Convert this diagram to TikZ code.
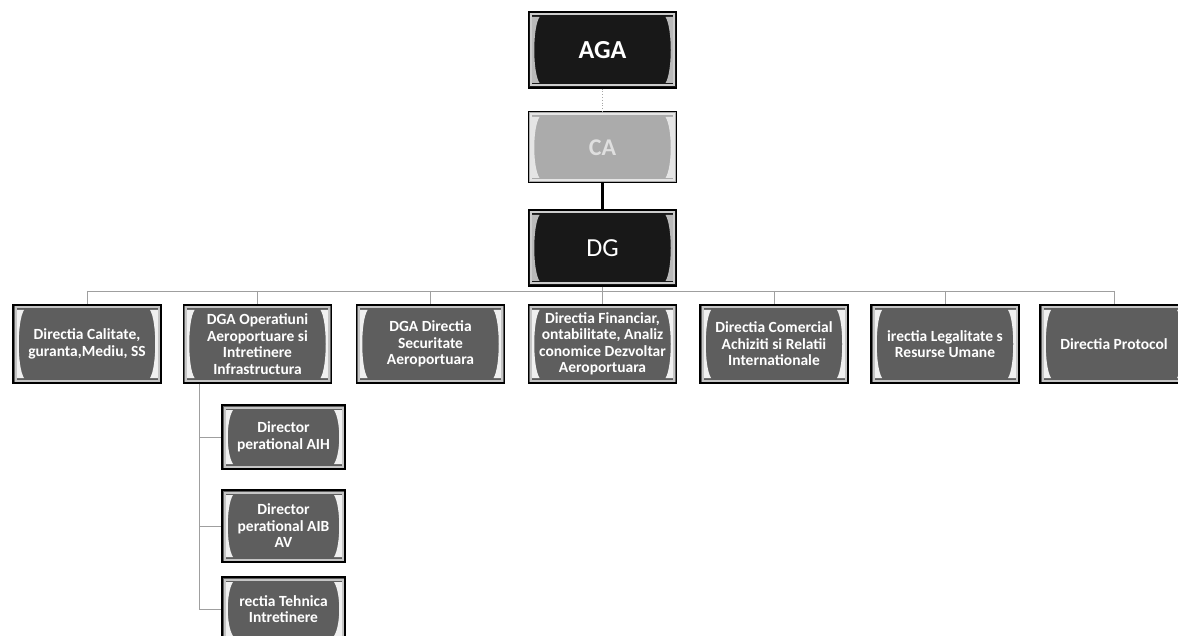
\documentclass[tikz,border=0pt]{standalone}
\usepackage{fontspec}
\setmainfont{Carlito}
\usetikzlibrary{calc}
\definecolor{rowgray}{HTML}{5E5E5E}
\definecolor{darkfill}{HTML}{181818}
\definecolor{cafill}{HTML}{ABABAB}
\newcommand\bevdeco[2]{%
  \fill[#1] let \p1=(path picture bounding box.north west), \p2=(path picture bounding box.south east) in
    (\x1+2.5pt,\y1-5pt) -- (\x1+11pt,\y1-5pt) .. controls (\x1+4pt,\y1-16pt) and (\x1+4pt,\y2+16pt) .. (\x1+11pt,\y2+5pt) -- (\x1+2.5pt,\y2+5pt) -- cycle
    (\x2-2.5pt,\y1-5pt) -- (\x2-11pt,\y1-5pt) .. controls (\x2-4pt,\y1-16pt) and (\x2-4pt,\y2+16pt) .. (\x2-11pt,\y2+5pt) -- (\x2-2.5pt,\y2+5pt) -- cycle;
  \draw[#2, line width=2pt] let \p1=(path picture bounding box.north west), \p2=(path picture bounding box.south east) in
    (\x1+2.5pt,\y1-2.5pt) rectangle (\x2-2.5pt,\y2+2.5pt);
}
\tikzset{
  basebox/.style={draw=black, line width=1.4pt, align=center, inner sep=0pt},
  rowbox/.style={basebox, fill=rowgray, text=white,
    font=\bfseries\fontsize{15.5}{16.5}\selectfont,
    minimum width=148pt, minimum height=78pt,
    path picture={\bevdeco{white!88!gray}{gray!45}}},
  childbox/.style={rowbox, minimum width=123pt},
  darkbox/.style={basebox, fill=darkfill, text=white,
    minimum width=148pt, minimum height=76pt,
    path picture={\bevdeco{gray!55}{gray!40}}},
  cabox/.style={basebox, line width=1pt, fill=cafill, text=gray!25,
    font=\bfseries\fontsize{24}{28}\selectfont,
    minimum width=148pt, minimum height=71pt,
    path picture={\bevdeco{white!80!gray}{white!80!gray}}},
  conn/.style={draw=gray!75, line width=0.8pt},
}
\begin{document}
\begin{tikzpicture}[x=1pt,y=-1pt]
\useasboundingbox[fill=white] (0,0) rectangle (1178,636);
% top chain
\node[darkbox, font=\bfseries\fontsize{26}{30}\selectfont] (aga) at (602.5,50) {AGA};
\node[cabox] (ca) at (602.5,147.5) {CA};
\node[darkbox, font=\fontsize{26}{30}\selectfont] (dg) at (602.5,248) {DG};
% row
\node[rowbox] (b1) at (87,344) {Directia Calitate,\\guranta,Mediu, SS};
\node[rowbox] (b2) at (257.5,344) {DGA Operatiuni\\Aeroportuare si\\Intretinere\\Infrastructura};
\node[rowbox] (b3) at (430.5,344) {DGA Directia\\Securitate\\Aeroportuara};
\node[rowbox] (b4) at (602.5,344) {Directia Financiar,\\ontabilitate, Analiz\\conomice Dezvoltar\\Aeroportuara};
\node[rowbox] (b5) at (774,344) {Directia Comercial\\Achiziti si Relatii\\Internationale};
\node[rowbox] (b6) at (945,344) {irectia Legalitate s\\Resurse Umane};
\node[rowbox] (b7) at (1114,344) {Directia Protocol};
% children
\node[childbox, minimum height=64pt] (c1) at (283.5,437) {Director\\perational AIH};
\node[childbox, minimum height=72pt] (c2) at (283.5,526) {Director\\perational AIB\\AV};
\node[childbox, minimum height=64pt] (c3) at (283.5,609) {rectia Tehnica\\Intretinere};
% connectors
\draw[draw=gray!70, line width=0.8pt, dotted] (aga) -- (ca);
\draw[black, line width=2.2pt] (ca) -- (dg);
\coordinate (bus) at (602.5,291);
\draw[conn] (dg.south) -- (bus);
\draw[conn] (b1.north |- bus) -- (b7.north |- bus);
\foreach \b in {b1,b2,b3,b4,b5,b6,b7}{
  \draw[conn] (\b.north |- bus) -- (\b.north);
}
\coordinate (cx) at ($(b2.south west)+(17,0)$);
\draw[conn] (cx) -- (cx |- c3.west) -- (c3.west);
\draw[conn] (cx |- c1.west) -- (c1.west);
\draw[conn] (cx |- c2.west) -- (c2.west);
\end{tikzpicture}
\end{document}
